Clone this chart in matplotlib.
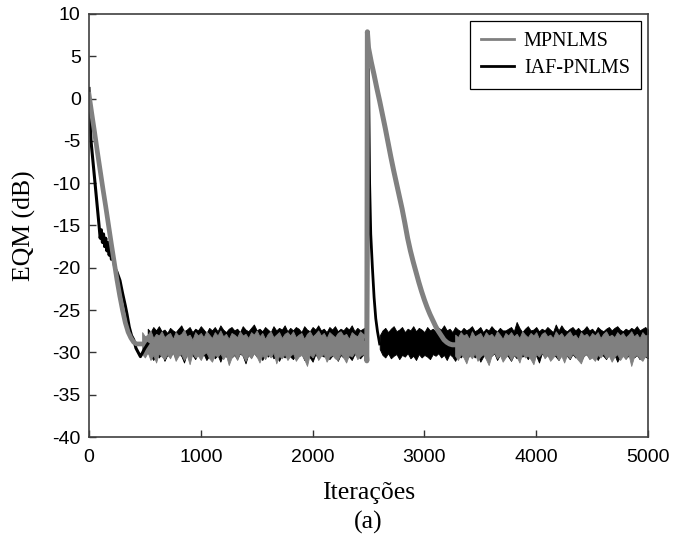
import matplotlib
matplotlib.use("Agg")
import matplotlib.pyplot as plt
from matplotlib.lines import Line2D

# ---------------- data ----------------
series_names = ["MPNLMS", "IAF-PNLMS"]
x_ticks = [0, 1000, 2000, 3000, 4000, 5000]
y_ticks = [-40, -35, -30, -25, -20, -15, -10, -5, 0, 5, 10]

# MPNLMS (gray): descent, steady-state band, jump + re-convergence, band
mp_x_start = [0, 25, 50, 75, 100, 125, 150, 175, 200, 225, 250, 275, 300,
              325, 350, 375, 400, 425, 450, 475]
mp_y_start = [0.5, -1.8, -4.0, -6.3, -8.5, -10.7, -12.8, -15.0, -17.2, -19.3,
              -21.4, -23.3, -25.0, -26.5, -27.6, -28.3, -28.8, -29.0, -29.0, -29.0]
mp_x_band1 = list(range(475, 2476, 25))
mp_hi_band1 = [
    -27.6, -28.1, -27.9, -27.4, -28.3, -27.8, -28.0, -27.5, -28.2, -27.9,
    -27.7, -28.4, -27.6, -28.0, -27.8, -27.3, -28.1, -27.9, -28.5, -27.6,
    -28.0, -27.7, -28.2, -27.5, -27.9, -28.3, -27.6, -28.0, -27.4, -28.1,
    -27.8, -28.4, -27.7, -27.9, -28.2, -27.5, -28.0, -27.8, -28.3, -27.6,
    -27.9, -27.4, -28.1, -27.7, -28.4, -27.8, -27.5, -28.2, -27.9, -27.6,
    -28.3, -27.8, -27.6, -28.0, -27.5, -28.2, -27.9, -27.7, -28.4, -27.8,
    -27.5, -28.1, -27.8, -27.4, -28.0, -27.7, -28.3, -27.6, -27.9, -28.2,
    -27.7, -27.5, -28.0, -27.8, -28.4, -27.6, -27.9, -28.1, -27.5, -27.8,
    -28.0]
mp_lo_band1 = [
    -30.2, -30.6, -30.0, -30.9, -30.3, -31.2, -30.1, -30.5, -30.8, -30.2,
    -30.7, -30.0, -31.0, -30.4, -30.2, -30.9, -30.3, -31.4, -30.1, -30.6,
    -30.4, -30.9, -30.2, -30.0, -30.7, -31.1, -30.3, -30.5, -30.1, -30.8,
    -30.3, -31.5, -30.6, -30.2, -30.9, -30.0, -30.4, -31.0, -30.3, -30.7,
    -30.1, -30.5, -31.2, -30.3, -30.8, -30.2, -30.6, -30.0, -31.3, -30.4,
    -30.7, -30.2, -30.9, -30.4, -30.1, -31.0, -30.5, -30.3, -30.8, -31.6,
    -30.2, -30.6, -30.0, -30.9, -30.4, -30.2, -31.1, -30.5, -30.3, -30.7,
    -30.9, -30.1, -30.6, -31.2, -30.3, -30.5, -30.0, -30.8, -30.4, -30.2,
    -30.6]
mp_x_jump = [2475, 2485, 2490, 2500, 2525, 2550, 2575, 2600, 2625, 2650, 2675,
             2700, 2725, 2750, 2775, 2800, 2825, 2850, 2875, 2900, 2925, 2950,
             2975, 3000, 3025, 3050, 3075, 3100, 3125, 3150, 3175, 3200, 3225,
             3250, 3275]
mp_y_jump = [-29.0, -31.0, 7.9, 6.0, 4.3, 2.8, 1.2, -0.3, -1.9, -3.5, -5.2,
             -6.9, -8.5, -10.0, -11.5, -13.0, -14.7, -16.5, -18.0, -19.3,
             -20.5, -21.7, -22.8, -23.8, -24.7, -25.5, -26.2, -26.9, -27.5,
             -28.0, -28.5, -28.8, -29.0, -29.1, -29.1]
mp_x_band2 = list(range(3275, 5001, 25))
mp_hi_band2 = [
    -27.9, -28.2, -27.6, -28.0, -27.8, -28.4, -27.5, -28.1, -27.9, -27.7,
    -28.3, -27.6, -28.0, -27.8, -28.2, -27.5, -27.9, -28.4, -27.7, -28.0,
    -27.6, -28.1, -27.8, -28.3, -27.5, -27.9, -28.2, -27.7, -28.0, -27.6,
    -28.4, -27.8, -27.6, -28.1, -27.9, -28.3, -27.5, -28.0, -27.7, -28.2,
    -27.8, -27.5, -28.1, -27.9, -28.4, -27.6, -28.0, -27.8, -28.2, -27.7,
    -28.0, -27.6, -28.3, -27.8, -27.5, -28.1, -27.9, -28.2, -27.6, -28.0,
    -27.7, -28.2, -27.9, -27.5, -28.1, -27.8, -28.3, -27.6, -28.0, -27.9]
mp_lo_band2 = [
    -30.4, -30.9, -30.2, -30.6, -31.3, -30.3, -30.7, -30.1, -31.0, -30.5,
    -30.2, -30.8, -31.5, -30.4, -30.0, -30.7, -30.3, -31.1, -30.6, -30.2,
    -30.9, -30.3, -30.5, -31.2, -30.1, -30.6, -30.4, -30.8, -31.4, -30.2,
    -30.5, -30.0, -30.7, -30.3, -31.0, -30.6, -30.2, -30.9, -30.4, -31.2,
    -30.3, -30.7, -30.1, -30.5, -30.9, -31.3, -30.4, -30.2, -30.8, -30.6,
    -31.0, -30.3, -30.6, -30.1, -30.7, -30.4, -31.1, -30.5, -30.2, -30.9,
    -30.4, -30.8, -30.2, -31.6, -30.5, -30.3, -30.7, -31.0, -30.4, -30.6]

# IAF-PNLMS (black)
iaf_x_start = [0, 18, 36, 54, 72, 90, 100, 110, 120, 130, 140, 150, 160, 170,
               180, 190, 200, 215, 230, 250, 277, 300, 325, 340, 360, 380, 400,
               420, 440, 460, 480, 500, 525]
iaf_y_start = [1.2, -5.0, -7.5, -10.0, -12.5, -15.0, -16.5, -15.5, -17.0,
               -16.0, -17.5, -16.5, -18.0, -17.0, -18.5, -17.5, -19.0, -18.5,
               -20.0, -20.5, -21.5, -23.0, -24.5, -25.5, -27.0, -28.0, -28.5,
               -29.5, -30.0, -30.5, -30.0, -29.5, -29.0]
iaf_x_band1 = list(range(525, 2476, 25))
iaf_hi_band1 = [
    -27.2, -27.6, -27.0, -27.4, -26.9, -27.5, -27.3, -27.7, -27.1, -27.4,
    -27.6, -27.2, -26.8, -27.5, -27.3, -27.0, -27.6, -27.2, -27.4, -26.9,
    -27.3, -27.7, -27.1, -27.4, -27.0, -27.5, -26.8, -27.3, -27.6, -27.2,
    -27.0, -27.4, -27.2, -27.6, -26.9, -27.3, -27.5, -27.1, -26.7, -27.4,
    -27.2, -27.5, -27.0, -27.3, -27.6, -26.9, -27.4, -27.1, -27.3, -26.8,
    -27.5, -27.1, -27.4, -27.0, -27.2, -27.6, -26.9, -27.3, -27.5, -27.0,
    -27.3, -26.8, -27.4, -27.2, -27.6, -27.0, -27.3, -26.9, -27.5, -27.2,
    -27.4, -27.0, -27.3, -26.8, -27.5, -27.1, -27.4, -27.2, -27.0]
iaf_lo_band1 = [
    -30.0, -30.4, -30.9, -30.2, -30.6, -30.1, -31.0, -30.3, -30.5, -30.0,
    -30.7, -30.2, -30.4, -31.2, -30.1, -30.5, -30.3, -30.8, -30.0, -30.6,
    -30.2, -30.9, -30.4, -30.1, -30.7, -30.3, -31.1, -30.2, -30.5, -30.0,
    -30.6, -30.3, -30.8, -30.1, -30.4, -31.3, -30.2, -30.6, -30.0, -30.5,
    -30.3, -30.9, -30.2, -30.5, -30.1, -30.7, -30.4, -31.0, -30.3, -30.6,
    -30.1, -30.5, -30.8, -30.2, -30.4, -30.0, -30.9, -30.3, -30.6, -31.1,
    -30.2, -30.7, -30.3, -30.5, -30.1, -30.8, -30.4, -30.2, -31.0, -30.3,
    -30.6, -30.1, -30.5, -30.9, -30.2, -30.4, -30.7, -30.3, -30.5]
iaf_x_jump = [2475, 2492, 2500, 2510, 2520, 2535, 2550, 2565, 2580, 2600]
iaf_y_jump = [-28.5, -28.5, 3.5, -10.0, -16.0, -20.0, -23.5, -26.0, -27.5, -29.0]
iaf_x_band2 = list(range(2600, 5001, 25))
iaf_hi_band2 = [
    -28.0, -27.4, -27.1, -27.6, -27.2, -26.9, -27.5, -27.3, -27.0, -27.6,
    -27.2, -27.4, -26.9, -27.5, -27.1, -27.3, -27.6, -27.0, -27.4, -27.2,
    -27.5, -27.1, -27.3, -26.8, -27.4, -27.2, -27.6, -27.0, -27.3, -27.5,
    -27.1, -27.4, -27.2, -26.9, -27.5, -27.3, -27.0, -27.6, -27.2, -27.4,
    -26.9, -27.3, -27.5, -27.1, -27.4, -27.4, -27.2, -27.0, -27.5, -26.4,
    -27.1, -27.6, -27.2, -26.9, -27.4, -27.3, -27.0, -27.5, -27.2, -27.4,
    -27.0, -27.3, -27.6, -26.7, -27.4, -26.8, -27.3, -27.5, -27.2, -27.0,
    -27.4, -27.1, -27.5, -27.3, -26.9, -27.4, -27.2, -27.6, -27.0, -27.3,
    -27.5, -27.2, -27.0, -27.4, -27.1, -26.9, -27.3, -27.5, -27.2, -27.4,
    -27.1, -27.3, -26.9, -27.4, -27.2, -27.0, -27.3]
iaf_lo_band2 = [
    -29.6, -30.3, -30.6, -30.1, -30.7, -30.4, -30.2, -30.8, -30.3, -30.5,
    -30.1, -30.7, -30.4, -30.9, -30.2, -30.6, -30.3, -30.5, -30.8, -30.2,
    -30.4, -30.1, -30.6, -30.3, -30.9, -30.2, -30.5, -31.0, -30.3, -30.6,
    -30.2, -30.8, -30.4, -30.1, -30.6, -30.3, -31.1, -30.5, -30.2, -30.7,
    -30.4, -30.1, -30.9, -30.3, -30.6, -30.2, -30.5, -31.0, -30.3, -30.7,
    -30.1, -30.5, -30.3, -30.8, -30.2, -30.6, -30.4, -31.2, -30.1, -30.5,
    -30.3, -30.7, -30.2, -30.5, -30.9, -30.1, -30.6, -30.4, -30.8, -30.2,
    -30.6, -30.3, -31.0, -30.4, -30.2, -30.7, -30.5, -30.1, -30.9, -30.3,
    -30.4, -30.8, -30.2, -30.6, -30.3, -31.1, -30.5, -30.2, -30.7, -30.4,
    -30.1, -30.6, -30.3, -30.8, -30.2, -30.5, -30.7]

# ---------------- plot ----------------
plt.rcParams['axes.unicode_minus'] = False
fig = plt.figure(figsize=(6.77, 5.37), dpi=100)
ax = fig.add_axes([89/677, 1 - 437/537, (648 - 89)/677, (437 - 14)/537])

GRAY = "#808080"
BLACK = "#000000"

# IAF-PNLMS first (underneath)
ax.fill_between(iaf_x_band1, iaf_lo_band1, iaf_hi_band1, color=BLACK, lw=0.6,
                edgecolor=BLACK)
ax.fill_between(iaf_x_band2, iaf_lo_band2, iaf_hi_band2, color=BLACK, lw=0.6,
                edgecolor=BLACK)
ax.plot(iaf_x_start, iaf_y_start, color=BLACK, lw=2.2)
ax.plot(iaf_x_jump, iaf_y_jump, color=BLACK, lw=2.0)

# MPNLMS on top
ax.fill_between(mp_x_band1, mp_lo_band1, mp_hi_band1, color=GRAY, lw=0.6,
                edgecolor=GRAY)
ax.fill_between(mp_x_band2, mp_lo_band2, mp_hi_band2, color=GRAY, lw=0.6,
                edgecolor=GRAY)
ax.plot(mp_x_start, mp_y_start, color=GRAY, lw=3.4)
ax.plot(mp_x_jump, mp_y_jump, color=GRAY, lw=3.6)

ax.set_xlim(0, 5000)
ax.set_ylim(-40, 10)
ax.set_xticks(x_ticks)
ax.set_yticks(y_ticks)
ax.set_xticklabels([str(v) for v in x_ticks], family="Liberation Sans", fontsize=14)
ax.set_yticklabels([str(v) for v in y_ticks], family="Liberation Sans", fontsize=14)
ax.tick_params(direction="in", length=5, width=1, top=False, right=False,
               color="#333333")
ax.tick_params(axis="x", pad=9)
ax.tick_params(axis="y", pad=6)
for s in ax.spines.values():
    s.set_color("#404040")
    s.set_linewidth(1.2)

ax.set_xlabel("Iterações", family="Liberation Serif", fontsize=18.5, labelpad=11)
ax.set_ylabel("EQM (dB)", family="Liberation Serif", fontsize=18.5, labelpad=12)
fig.text(0.5 * (89 + 648) / 677, 1 - 522 / 537, "(a)", family="Liberation Serif",
         fontsize=18.5, ha="center", va="center")

handles = [Line2D([], [], color=GRAY, lw=2.0), Line2D([], [], color=BLACK, lw=2.0)]
leg = ax.legend(handles, series_names, loc="upper right",
                prop={"family": "Liberation Serif", "size": 14.5},
                frameon=True, fancybox=False, framealpha=1, edgecolor="black",
                borderpad=0.55, handlelength=1.65, handletextpad=0.5,
                labelspacing=0.4, borderaxespad=0.35)
leg.get_frame().set_linewidth(0.9)

fig.savefig("out.png", dpi=100)
